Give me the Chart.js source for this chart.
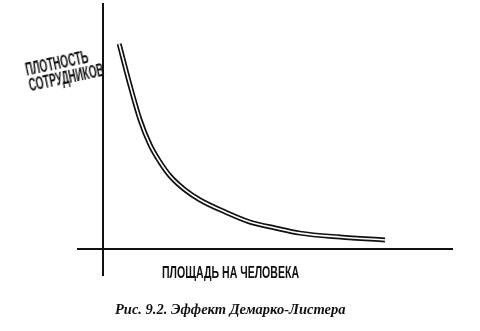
<!DOCTYPE html>
<html lang="ru">
<head>
    <meta charset="UTF-8">
    <title>Эффект Демарко-Листера</title>
    <script src="https://cdn.jsdelivr.net/npm/chart.js"></script>
    <style>
        html, body { margin: 0; padding: 0; background: #fff; }
        #wrap { position: relative; width: 480px; height: 331px; overflow: hidden; }
        #chart { position: absolute; left: 0; top: 0; }
        .hand {
            position: absolute;
            font-family: "Liberation Sans", Arial, sans-serif;
            font-weight: bold;
            color: #111;
            white-space: nowrap;
            line-height: 1;
        }
        #ylabel {
            left: 24px; top: 62px;
            font-size: 18px;
            line-height: 16px;
            transform: rotate(-12deg) scaleX(0.56);
            transform-origin: left top;
        }
        #xlabel {
            left: 162px; top: 264px; font-size: 16.5px;
            transform: scaleX(0.64);
            transform-origin: left top;
        }
        #caption {
            position: absolute; left: 115px; top: 301px;
            font-family: "Liberation Serif", "DejaVu Serif", serif;
            font-weight: bold; font-style: italic;
            font-size: 14.5px; color: #111; white-space: nowrap;
        }
    </style>
</head>
<body>
<div id="wrap">
    <canvas id="chart" width="480" height="331"></canvas>
    <div class="hand" id="ylabel">ПЛОТНОСТЬ<br>СОТРУДНИКОВ</div>
    <div class="hand" id="xlabel">ПЛОЩАДЬ НА ЧЕЛОВЕКА</div>
    <div id="caption">Рис. 9.2. Эффект Демарко-Листера</div>
</div>

<script>
    // Площадь на человека (условные единицы) и плотность сотрудников
    const area    = [4.6, 7.7, 10.6, 13.5, 16.3, 19.2, 23.5, 27.8, 35.0, 42.1, 49.3, 56.4, 67.9, 80.8];
    const density = [83.7, 66.9, 52.7, 42.4, 35.5, 29.8, 24.1, 20.0, 15.1, 11.0, 8.6, 6.5, 4.9, 3.7];

    const points = area.map((x, i) => ({ x: x, y: density[i] }));

    const ctx = document.getElementById("chart").getContext("2d");
    new Chart(ctx, {
        type: "line",
        data: {
            datasets: [
                {
                    // inner white stroke goes on top -> double line look
                    data: points,
                    borderColor: "#fff",
                    borderWidth: 1.6,
                    pointRadius: 0,
                    tension: 0.4,
                    cubicInterpolationMode: "monotone",
                    order: 0
                },
                {
                    data: points,
                    borderColor: "#111",
                    borderWidth: 5,
                    pointRadius: 0,
                    tension: 0.4,
                    cubicInterpolationMode: "monotone",
                    order: 1
                }
            ]
        },
        options: {
            responsive: false,
            animation: false,
            layout: { padding: { left: 78, right: 28, top: 4, bottom: 56 } },
            plugins: { legend: { display: false }, tooltip: { enabled: false } },
            scales: {
                x: {
                    type: "linear",
                    min: -7.2, max: 100,
                    position: { y: 0 },
                    ticks: { display: false },
                    grid: { display: false },
                    border: { display: true, color: "#111", width: 2 }
                },
                y: {
                    type: "linear",
                    min: -10.6, max: 100,
                    position: { x: 0 },
                    ticks: { display: false },
                    grid: { display: false },
                    border: { display: true, color: "#111", width: 2 }
                }
            }
        }
    });
</script>
</body>
</html>
